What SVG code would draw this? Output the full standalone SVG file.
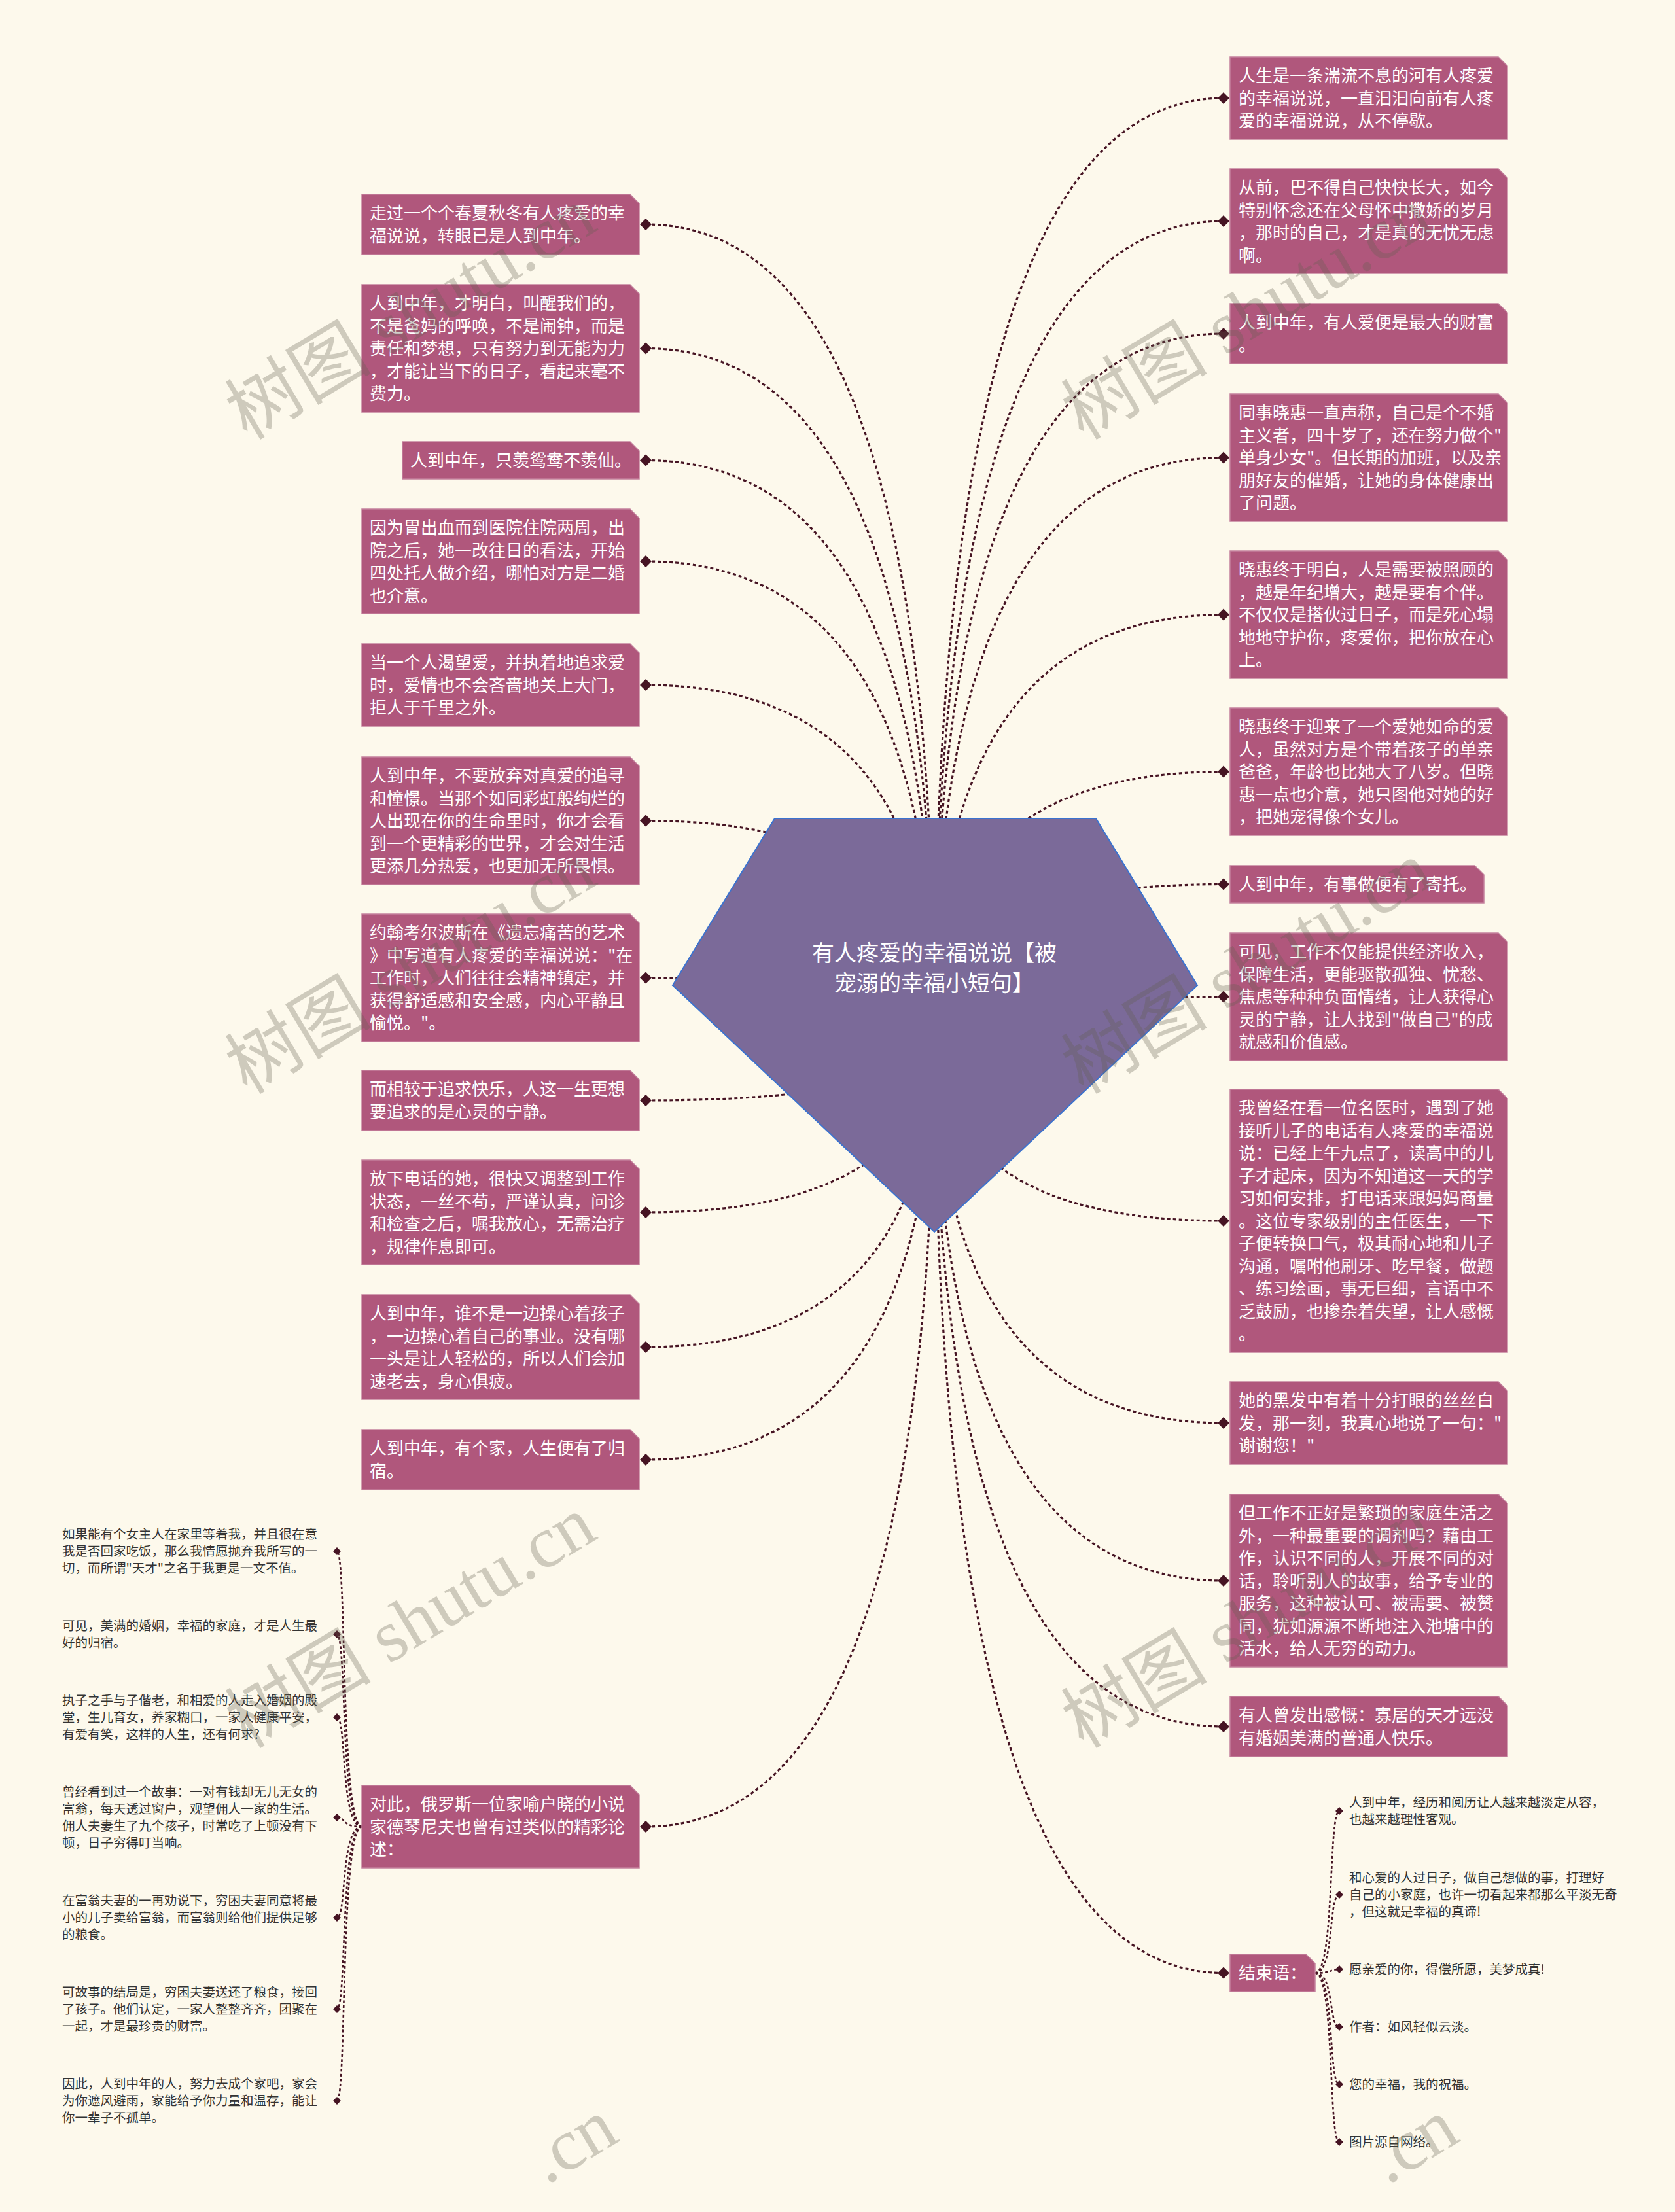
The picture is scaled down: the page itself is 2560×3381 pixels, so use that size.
<svg xmlns="http://www.w3.org/2000/svg" xmlns:xlink="http://www.w3.org/1999/xlink" width="2560" height="3381" viewBox="0 0 2560 3381">
<style>
.bg{fill:#fdf9ec}
.box{fill:#b0577c;stroke:#c3809c;stroke-width:1.5}
.t{font-family:"Noto Sans CJK SC","Noto Sans",sans-serif;font-size:26px;fill:#ffffff}
.s{font-family:"Noto Sans CJK SC","Noto Sans",sans-serif;font-size:19.5px;fill:#333333}
.c{fill:none;stroke:#461423;stroke-width:3.2;stroke-dasharray:5 4}
.cs{fill:none;stroke:#461423;stroke-width:2.6;stroke-dasharray:4 3.5}
.dia{fill:#461423}
.ctr{fill:#7b6a99;stroke:#3a73d0;stroke-width:2}
.ct{font-family:"Noto Sans CJK SC","Noto Sans",sans-serif;font-size:34px;fill:#ffffff;text-anchor:middle}
.wm{font-family:"Liberation Serif","Noto Sans CJK SC",serif;font-size:112px;fill:#645f50;opacity:0.3}
</style>
<defs>
<path id="d" class="dia" d="M0 -9 L9 0 L0 9 L-9 0 Z"/>
<path id="ds" class="dia" d="M0 -6 L6 0 L0 6 L-6 0 Z"/>
</defs>
<rect class="bg" x="0" y="0" width="2560" height="3381"/>

<g id="connectors">
<path class="c" d="M987 343 Q1428 343 1428 1567"/>
<path class="c" d="M987 532.5 Q1428 532.5 1428 1567"/>
<path class="c" d="M987 703.5 Q1428 703.5 1428 1567"/>
<path class="c" d="M987 858 Q1428 858 1428 1567"/>
<path class="c" d="M987 1047 Q1428 1047 1428 1567"/>
<path class="c" d="M987 1254.5 Q1428 1254.5 1428 1567"/>
<path class="c" d="M987 1494.5 Q1428 1494.5 1428 1567"/>
<path class="c" d="M987 1682 Q1428 1682 1428 1567"/>
<path class="c" d="M987 1853 Q1428 1853 1428 1567"/>
<path class="c" d="M987 2059 Q1428 2059 1428 1567"/>
<path class="c" d="M987 2231 Q1428 2231 1428 1567"/>
<path class="c" d="M987 2792 Q1428 2792 1428 1567"/>
<path class="c" d="M1870 150 Q1428 150 1428 1567"/>
<path class="c" d="M1870 338 Q1428 338 1428 1567"/>
<path class="c" d="M1870 510 Q1428 510 1428 1567"/>
<path class="c" d="M1870 699.5 Q1428 699.5 1428 1567"/>
<path class="c" d="M1870 939.5 Q1428 939.5 1428 1567"/>
<path class="c" d="M1870 1179.5 Q1428 1179.5 1428 1567"/>
<path class="c" d="M1870 1351.5 Q1428 1351.5 1428 1567"/>
<path class="c" d="M1870 1523.5 Q1428 1523.5 1428 1567"/>
<path class="c" d="M1870 1866 Q1428 1866 1428 1567"/>
<path class="c" d="M1870 2175 Q1428 2175 1428 1567"/>
<path class="c" d="M1870 2416 Q1428 2416 1428 1567"/>
<path class="c" d="M1870 2639 Q1428 2639 1428 1567"/>
<path class="c" d="M1870 3015.5 Q1428 3015.5 1428 1567"/>
<path class="cs" d="M553 2792 C520 2792 530 2371 515 2371"/>
<path class="cs" d="M553 2792 C520 2792 530 2498 515 2498"/>
<path class="cs" d="M553 2792 C520 2792 530 2625 515 2625"/>
<path class="cs" d="M553 2792 C520 2792 530 2778 515 2778"/>
<path class="cs" d="M553 2792 C520 2792 530 2931 515 2931"/>
<path class="cs" d="M553 2792 C520 2792 530 3071 515 3071"/>
<path class="cs" d="M553 2792 C520 2792 530 3211 515 3211"/>
<path class="cs" d="M2010 3015.5 C2040 3015.5 2030 2768 2047 2768"/>
<path class="cs" d="M2010 3015.5 C2040 3015.5 2030 2896 2047 2896"/>
<path class="cs" d="M2010 3015.5 C2040 3015.5 2030 3010 2047 3010"/>
<path class="cs" d="M2010 3015.5 C2040 3015.5 2030 3098 2047 3098"/>
<path class="cs" d="M2010 3015.5 C2040 3015.5 2030 3186 2047 3186"/>
<path class="cs" d="M2010 3015.5 C2040 3015.5 2030 3274 2047 3274"/>
<use href="#d" x="987" y="343"/><use href="#d" x="987" y="532.5"/><use href="#d" x="987" y="703.5"/><use href="#d" x="987" y="858"/><use href="#d" x="987" y="1047"/><use href="#d" x="987" y="1254.5"/><use href="#d" x="987" y="1494.5"/><use href="#d" x="987" y="1682"/><use href="#d" x="987" y="1853"/><use href="#d" x="987" y="2059"/><use href="#d" x="987" y="2231"/><use href="#d" x="987" y="2792"/>
<use href="#d" x="1870" y="150"/><use href="#d" x="1870" y="338"/><use href="#d" x="1870" y="510"/><use href="#d" x="1870" y="699.5"/><use href="#d" x="1870" y="939.5"/><use href="#d" x="1870" y="1179.5"/><use href="#d" x="1870" y="1351.5"/><use href="#d" x="1870" y="1523.5"/><use href="#d" x="1870" y="1866"/><use href="#d" x="1870" y="2175"/><use href="#d" x="1870" y="2416"/><use href="#d" x="1870" y="2639"/><use href="#d" x="1870" y="3015.5"/>
<use href="#ds" x="515" y="2371"/><use href="#ds" x="515" y="2498"/><use href="#ds" x="515" y="2625"/><use href="#ds" x="515" y="2778"/><use href="#ds" x="515" y="2931"/><use href="#ds" x="515" y="3071"/><use href="#ds" x="515" y="3211"/>
<use href="#ds" x="2047" y="2768"/><use href="#ds" x="2047" y="2896"/><use href="#ds" x="2047" y="3010"/><use href="#ds" x="2047" y="3098"/><use href="#ds" x="2047" y="3186"/><use href="#ds" x="2047" y="3274"/>
</g>

<g id="center">
<polygon class="ctr" points="1184,1251 1675,1251 1830,1506 1428,1883 1028,1506"/>
<text class="ct" x="1428" y="1469">有人疼爱的幸福说说【被</text>
<text class="ct" x="1428" y="1515">宠溺的幸福小短句】</text>
</g>

<g id="L1"><path class="box" d="M553 297 H963 L977 311 V389 H553 Z"/>
<text class="t" x="565" y="335">走过一个个春夏秋冬有人疼爱的幸</text><text class="t" x="565" y="369.5">福说说，转眼已是人到中年。</text></g>
<g id="L2"><path class="box" d="M553 435 H963 L977 449 V630 H553 Z"/>
<text class="t" x="565" y="473">人到中年，才明白，叫醒我们的，</text><text class="t" x="565" y="507.5">不是爸妈的呼唤，不是闹钟，而是</text><text class="t" x="565" y="542">责任和梦想，只有努力到无能为力</text><text class="t" x="565" y="576.5">，才能让当下的日子，看起来毫不</text><text class="t" x="565" y="611">费力。</text></g>
<g id="L3"><path class="box" d="M615 675 H963 L977 689 V732 H615 Z"/>
<text class="t" x="627" y="713">人到中年，只羡鸳鸯不羡仙。</text></g>
<g id="L4"><path class="box" d="M553 778 H963 L977 792 V938 H553 Z"/>
<text class="t" x="565" y="816">因为胃出血而到医院住院两周，出</text><text class="t" x="565" y="850.5">院之后，她一改往日的看法，开始</text><text class="t" x="565" y="885">四处托人做介绍，哪怕对方是二婚</text><text class="t" x="565" y="919.5">也介意。</text></g>
<g id="L5"><path class="box" d="M553 984 H963 L977 998 V1110 H553 Z"/>
<text class="t" x="565" y="1022">当一个人渴望爱，并执着地追求爱</text><text class="t" x="565" y="1056.5">时，爱情也不会吝啬地关上大门，</text><text class="t" x="565" y="1091">拒人于千里之外。</text></g>
<g id="L6"><path class="box" d="M553 1157 H963 L977 1171 V1352 H553 Z"/>
<text class="t" x="565" y="1195">人到中年，不要放弃对真爱的追寻</text><text class="t" x="565" y="1229.5">和憧憬。当那个如同彩虹般绚烂的</text><text class="t" x="565" y="1264">人出现在你的生命里时，你才会看</text><text class="t" x="565" y="1298.5">到一个更精彩的世界，才会对生活</text><text class="t" x="565" y="1333">更添几分热爱，也更加无所畏惧。</text></g>
<g id="L7"><path class="box" d="M553 1397 H963 L977 1411 V1592 H553 Z"/>
<text class="t" x="565" y="1435">约翰考尔波斯在《遗忘痛苦的艺术</text><text class="t" x="565" y="1469.5">》中写道有人疼爱的幸福说说："在</text><text class="t" x="565" y="1504">工作时，人们往往会精神镇定，并</text><text class="t" x="565" y="1538.5">获得舒适感和安全感，内心平静且</text><text class="t" x="565" y="1573">愉悦。"。</text></g>
<g id="L8"><path class="box" d="M553 1636 H963 L977 1650 V1728 H553 Z"/>
<text class="t" x="565" y="1674">而相较于追求快乐，人这一生更想</text><text class="t" x="565" y="1708.5">要追求的是心灵的宁静。</text></g>
<g id="L9"><path class="box" d="M553 1773 H963 L977 1787 V1933 H553 Z"/>
<text class="t" x="565" y="1811">放下电话的她，很快又调整到工作</text><text class="t" x="565" y="1845.5">状态，一丝不苟，严谨认真，问诊</text><text class="t" x="565" y="1880">和检查之后，嘱我放心，无需治疗</text><text class="t" x="565" y="1914.5">，规律作息即可。</text></g>
<g id="L10"><path class="box" d="M553 1979 H963 L977 1993 V2139 H553 Z"/>
<text class="t" x="565" y="2017">人到中年，谁不是一边操心着孩子</text><text class="t" x="565" y="2051.5">，一边操心着自己的事业。没有哪</text><text class="t" x="565" y="2086">一头是让人轻松的，所以人们会加</text><text class="t" x="565" y="2120.5">速老去，身心俱疲。</text></g>
<g id="L11"><path class="box" d="M553 2185 H963 L977 2199 V2277 H553 Z"/>
<text class="t" x="565" y="2223">人到中年，有个家，人生便有了归</text><text class="t" x="565" y="2257.5">宿。</text></g>
<g id="L12"><path class="box" d="M553 2729 H963 L977 2743 V2855 H553 Z"/>
<text class="t" x="565" y="2767">对此，俄罗斯一位家喻户晓的小说</text><text class="t" x="565" y="2801.5">家德琴尼夫也曾有过类似的精彩论</text><text class="t" x="565" y="2836">述：</text></g>

<g id="L12c1"><text class="s" x="95" y="2352">如果能有个女主人在家里等着我，并且很在意</text><text class="s" x="95" y="2378">我是否回家吃饭，那么我情愿抛弃我所写的一</text><text class="s" x="95" y="2404">切，而所谓"天才"之名于我更是一文不值。</text></g>
<g id="L12c2"><text class="s" x="95" y="2492">可见，美满的婚姻，幸福的家庭，才是人生最</text><text class="s" x="95" y="2518">好的归宿。</text></g>
<g id="L12c3"><text class="s" x="95" y="2606">执子之手与子偕老，和相爱的人走入婚姻的殿</text><text class="s" x="95" y="2632">堂，生儿育女，养家糊口，一家人健康平安，</text><text class="s" x="95" y="2658">有爱有笑，这样的人生，还有何求?</text></g>
<g id="L12c4"><text class="s" x="95" y="2746">曾经看到过一个故事：一对有钱却无儿无女的</text><text class="s" x="95" y="2772">富翁，每天透过窗户，观望佣人一家的生活。</text><text class="s" x="95" y="2798">佣人夫妻生了九个孩子，时常吃了上顿没有下</text><text class="s" x="95" y="2824">顿，日子穷得叮当响。</text></g>
<g id="L12c5"><text class="s" x="95" y="2912">在富翁夫妻的一再劝说下，穷困夫妻同意将最</text><text class="s" x="95" y="2938">小的儿子卖给富翁，而富翁则给他们提供足够</text><text class="s" x="95" y="2964">的粮食。</text></g>
<g id="L12c6"><text class="s" x="95" y="3052">可故事的结局是，穷困夫妻送还了粮食，接回</text><text class="s" x="95" y="3078">了孩子。他们认定，一家人整整齐齐，团聚在</text><text class="s" x="95" y="3104">一起，才是最珍贵的财富。</text></g>
<g id="L12c7"><text class="s" x="95" y="3192">因此，人到中年的人，努力去成个家吧，家会</text><text class="s" x="95" y="3218">为你遮风避雨，家能给予你力量和温存，能让</text><text class="s" x="95" y="3244">你一辈子不孤单。</text></g>

<g id="R1"><path class="box" d="M1880 87 H2290 L2304 101 V213 H1880 Z"/>
<text class="t" x="1893" y="125">人生是一条湍流不息的河有人疼爱</text><text class="t" x="1893" y="159.5">的幸福说说，一直汩汩向前有人疼</text><text class="t" x="1893" y="194">爱的幸福说说，从不停歇。</text></g>
<g id="R2"><path class="box" d="M1880 258 H2290 L2304 272 V418 H1880 Z"/>
<text class="t" x="1893" y="296">从前，巴不得自己快快长大，如今</text><text class="t" x="1893" y="330.5">特别怀念还在父母怀中撒娇的岁月</text><text class="t" x="1893" y="365">，那时的自己，才是真的无忧无虑</text><text class="t" x="1893" y="399.5">啊。</text></g>
<g id="R3"><path class="box" d="M1880 464 H2290 L2304 478 V556 H1880 Z"/>
<text class="t" x="1893" y="502">人到中年，有人爱便是最大的财富</text><text class="t" x="1893" y="536.5">。</text></g>
<g id="R4"><path class="box" d="M1880 602 H2290 L2304 616 V797 H1880 Z"/>
<text class="t" x="1893" y="640">同事晓惠一直声称，自己是个不婚</text><text class="t" x="1893" y="674.5">主义者，四十岁了，还在努力做个"</text><text class="t" x="1893" y="709">单身少女"。但长期的加班，以及亲</text><text class="t" x="1893" y="743.5">朋好友的催婚，让她的身体健康出</text><text class="t" x="1893" y="778">了问题。</text></g>
<g id="R5"><path class="box" d="M1880 842 H2290 L2304 856 V1037 H1880 Z"/>
<text class="t" x="1893" y="880">晓惠终于明白，人是需要被照顾的</text><text class="t" x="1893" y="914.5">，越是年纪增大，越是要有个伴。</text><text class="t" x="1893" y="949">不仅仅是搭伙过日子，而是死心塌</text><text class="t" x="1893" y="983.5">地地守护你，疼爱你，把你放在心</text><text class="t" x="1893" y="1018">上。</text></g>
<g id="R6"><path class="box" d="M1880 1082 H2290 L2304 1096 V1277 H1880 Z"/>
<text class="t" x="1893" y="1120">晓惠终于迎来了一个爱她如命的爱</text><text class="t" x="1893" y="1154.5">人，虽然对方是个带着孩子的单亲</text><text class="t" x="1893" y="1189">爸爸，年龄也比她大了八岁。但晓</text><text class="t" x="1893" y="1223.5">惠一点也介意，她只图他对她的好</text><text class="t" x="1893" y="1258">，把她宠得像个女儿。</text></g>
<g id="R7"><path class="box" d="M1880 1323 H2254 L2268 1337 V1380 H1880 Z"/>
<text class="t" x="1893" y="1361">人到中年，有事做便有了寄托。</text></g>
<g id="R8"><path class="box" d="M1880 1426 H2290 L2304 1440 V1621 H1880 Z"/>
<text class="t" x="1893" y="1464">可见，工作不仅能提供经济收入，</text><text class="t" x="1893" y="1498.5">保障生活，更能驱散孤独、忧愁、</text><text class="t" x="1893" y="1533">焦虑等种种负面情绪，让人获得心</text><text class="t" x="1893" y="1567.5">灵的宁静，让人找到"做自己"的成</text><text class="t" x="1893" y="1602">就感和价值感。</text></g>
<g id="R9"><path class="box" d="M1880 1665 H2290 L2304 1679 V2067 H1880 Z"/>
<text class="t" x="1893" y="1703">我曾经在看一位名医时，遇到了她</text><text class="t" x="1893" y="1737.5">接听儿子的电话有人疼爱的幸福说</text><text class="t" x="1893" y="1772">说：已经上午九点了，读高中的儿</text><text class="t" x="1893" y="1806.5">子才起床，因为不知道这一天的学</text><text class="t" x="1893" y="1841">习如何安排，打电话来跟妈妈商量</text><text class="t" x="1893" y="1875.5">。这位专家级别的主任医生，一下</text><text class="t" x="1893" y="1910">子便转换口气，极其耐心地和儿子</text><text class="t" x="1893" y="1944.5">沟通，嘱咐他刷牙、吃早餐，做题</text><text class="t" x="1893" y="1979">、练习绘画，事无巨细，言语中不</text><text class="t" x="1893" y="2013.5">乏鼓励，也掺杂着失望，让人感慨</text><text class="t" x="1893" y="2048">。</text></g>
<g id="R10"><path class="box" d="M1880 2112 H2290 L2304 2126 V2238 H1880 Z"/>
<text class="t" x="1893" y="2150">她的黑发中有着十分打眼的丝丝白</text><text class="t" x="1893" y="2184.5">发，那一刻，我真心地说了一句："</text><text class="t" x="1893" y="2219">谢谢您！"</text></g>
<g id="R11"><path class="box" d="M1880 2284 H2290 L2304 2298 V2548 H1880 Z"/>
<text class="t" x="1893" y="2322">但工作不正好是繁琐的家庭生活之</text><text class="t" x="1893" y="2356.5">外，一种最重要的调剂吗？藉由工</text><text class="t" x="1893" y="2391">作，认识不同的人，开展不同的对</text><text class="t" x="1893" y="2425.5">话，聆听别人的故事，给予专业的</text><text class="t" x="1893" y="2460">服务，这种被认可、被需要、被赞</text><text class="t" x="1893" y="2494.5">同，犹如源源不断地注入池塘中的</text><text class="t" x="1893" y="2529">活水，给人无穷的动力。</text></g>
<g id="R12"><path class="box" d="M1880 2593 H2290 L2304 2607 V2685 H1880 Z"/>
<text class="t" x="1893" y="2631">有人曾发出感慨：寡居的天才远没</text><text class="t" x="1893" y="2665.5">有婚姻美满的普通人快乐。</text></g>
<g id="R13"><path class="box" d="M1880 2987 H1996 L2010 3001 V3044 H1880 Z"/>
<text class="t" x="1893" y="3025">结束语：</text></g>

<g id="R13c1"><text class="s" x="2062" y="2762">人到中年，经历和阅历让人越来越淡定从容，</text><text class="s" x="2062" y="2788">也越来越理性客观。</text></g>
<g id="R13c2"><text class="s" x="2062" y="2877">和心爱的人过日子，做自己想做的事，打理好</text><text class="s" x="2062" y="2903">自己的小家庭，也许一切看起来都那么平淡无奇</text><text class="s" x="2062" y="2929">，但这就是幸福的真谛!</text></g>
<g id="R13c3"><text class="s" x="2062" y="3017">愿亲爱的你，得偿所愿，美梦成真!</text></g>
<g id="R13c4"><text class="s" x="2062" y="3105">作者：如风轻似云淡。</text></g>
<g id="R13c5"><text class="s" x="2062" y="3193">您的幸福，我的祝福。</text></g>
<g id="R13c6"><text class="s" x="2062" y="3281">图片源自网络。</text></g>

<g id="watermark">
<text class="wm" text-anchor="middle" transform="translate(647 512) rotate(-31)">树图 shutu.cn</text>
<text class="wm" text-anchor="middle" transform="translate(647 1512) rotate(-31)">树图 shutu.cn</text>
<text class="wm" text-anchor="middle" transform="translate(647 2512) rotate(-31)">树图 shutu.cn</text>
<text class="wm" text-anchor="middle" transform="translate(1925 512) rotate(-31)">树图 shutu.cn</text>
<text class="wm" text-anchor="middle" transform="translate(1925 1512) rotate(-31)">树图 shutu.cn</text>
<text class="wm" text-anchor="middle" transform="translate(1925 2512) rotate(-31)">树图 shutu.cn</text>
<text class="wm" transform="translate(835 3340) rotate(-31)">.cn</text>
<text class="wm" transform="translate(2120 3340) rotate(-31)">.cn</text>
</g>
</svg>
